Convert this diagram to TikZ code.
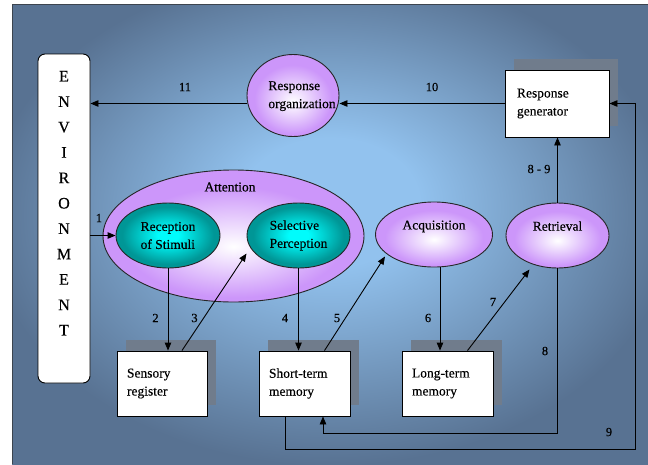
\documentclass[tikz,border=0pt]{standalone}
\usepackage{fontspec}
\setmainfont{Liberation Serif}[FakeBold=0.35]
\usetikzlibrary{arrows.meta,shapes.geometric,shadows,calc}
\definecolor{bglight}{RGB}{146,194,238}
\definecolor{bgdark}{RGB}{88,114,146}
\definecolor{lilac}{RGB}{204,150,250}
\definecolor{tealout}{RGB}{0,150,150}
\definecolor{tealin}{RGB}{0,252,252}
\definecolor{shadowcol}{RGB}{112,124,140}
\definecolor{framecol}{RGB}{60,68,78}
\pgfdeclareradialshading{bgshade}{\pgfpoint{0bp}{4bp}}{color(0bp)=(bglight); color(7bp)=(bglight); color(27bp)=(bgdark); color(50bp)=(bgdark)}
\pgfdeclareradialshading{lilacshade}{\pgfpoint{0bp}{-4bp}}{color(0bp)=(white); color(21bp)=(lilac); color(50bp)=(lilac)}
\pgfdeclareradialshading{tealshade}{\pgfpoint{0bp}{0bp}}{color(0bp)=(tealin); color(5bp)=(tealin); color(22bp)=(tealout); color(50bp)=(tealout)}
\begin{document}
\begin{tikzpicture}[x=1pt,y=-1pt,
  txt/.style={font=\fontsize{13.5}{18}\selectfont},
  ellbase/.style={ellipse, draw=black!85, line width=0.9pt, inner sep=0pt, txt, align=left},
  lilacell/.style={ellbase, shade, shading=lilacshade},
  tealell/.style={ellbase, shade, shading=tealshade},
  membox/.style={rectangle, draw=black, line width=0.9pt, fill=white, inner sep=0pt, txt, align=left, minimum height=65pt,
    drop shadow={shadow xshift=9pt, shadow yshift=11pt, fill=shadowcol, opacity=1}},
  arr/.style={line width=0.9pt, -{Triangle[length=8pt,width=6.5pt]}},
  num/.style={font=\fontsize{12.5}{14}\selectfont, inner sep=0pt}
]
\useasboundingbox (0,0) rectangle (648,464);
\fill[white] (0,0) rectangle (648,464);
\shade[shading=bgshade] (12,4) rectangle (648,464);
\draw[framecol, line width=1.2pt] (648,4.6) -- (12.6,4.6) -- (12.6,464);

% environment
\node[draw=black, line width=0.9pt, fill=white, rounded corners=7pt, inner sep=0pt,
      minimum width=52pt, minimum height=329pt] (env) at (64,218.5)
  {\parbox[c][329pt][t]{52pt}{\centering\fontsize{16}{25.4}\selectfont\vspace*{17pt}E\\N\\V\\I\\R\\O\\N\\M\\E\\N\\T}};

% top row
\node[lilacell, minimum width=92pt, minimum height=82pt] (ro) at (293,95.5)
  {\makebox[0pt]{\hspace*{18pt}\begin{tabular}{@{}l@{}}Response\\organization\end{tabular}}};
\node[membox, minimum width=104pt, minimum height=67pt, text width=80pt] (gen) at (557,103.5) {Response\\generator};

% attention group
\node[lilacell, minimum width=261pt, minimum height=132pt] (att) at (233.5,236) {};
\node[txt, inner sep=0pt] (attl) at (230,187) {Attention};
\node[tealell, minimum width=104pt, minimum height=65pt] (rec) at (168,235.5) {Reception\\of Stimuli};
\node[tealell, minimum width=103pt, minimum height=65pt] (sel) at (298.5,235.5) {Selective\\Perception};

\node[lilacell, minimum width=117pt, minimum height=65pt, text depth=19pt] (acq) at (434,234.5) {Acquisition};
\node[lilacell, minimum width=103pt, minimum height=65pt, text depth=19pt] (ret) at (557.5,235.5) {Retrieval};

% memory boxes
\node[membox, minimum width=90pt, text width=70pt] (sr) at (162,383.5) {Sensory\\register};
\node[membox, minimum width=91pt, text width=71pt] (stm) at (304.5,383.5) {Short-term\\memory};
\node[membox, minimum width=91pt, text width=71pt] (ltm) at (447.5,383.5) {Long-term\\memory};

\coordinate (c8) at (323,433);
\coordinate (c9) at (635.5,449);

% connectors
\draw[arr] (env.east |- rec) -- (rec.west);
\draw[arr] (ro.west |- gen.west) -- (env.east |- gen.west);
\draw[arr] (gen.west) -- (gen.west -| ro.east);
\draw[arr] (ret.north) -- (ret.north |- gen.south);
\draw[arr] (rec.south) -- (rec.south |- sr.north);
\draw[arr] ([xshift=20pt]sr.north) -- ($(sel.center)+(-52,18)$);
\draw[arr] (sel.south) -- (sel.south |- stm.north);
\draw[arr] ([xshift=20pt]stm.north) -- ($(acq.center)+(-49,22)$);
\draw[arr] ([xshift=6pt]acq.south) -- ([xshift=6pt]acq.south |- ltm.north);
\draw[arr] ([xshift=20pt]ltm.north) -- ($(ret.center)+(-28,34)$);
\draw[arr] (ret.south) |- (c8) -- (c8 |- stm.south);
\draw[arr] ([xshift=-19.5pt]stm.south) |- (c9) |- (gen.east);

% labels
\node[num] (n1) at (99,218) {1};
\node[num] (n2) at (155.5,318) {2};
\node[num] (n3) at (194.5,318) {3};
\node[num] (n4) at (285,318) {4};
\node[num] (n5) at (337,318) {5};
\node[num] (n6) at (428,318) {6};
\node[num] (n7) at (493,302) {7};
\node[num] (n8) at (545,351) {8};
\node[num] (n9) at (609,432) {9};
\node[num] (n89) at (539,169) {8 - 9};
\node[num] (n10) at (432,87) {10};
\node[num] (n11) at (185,87) {11};
\end{tikzpicture}
\end{document}
